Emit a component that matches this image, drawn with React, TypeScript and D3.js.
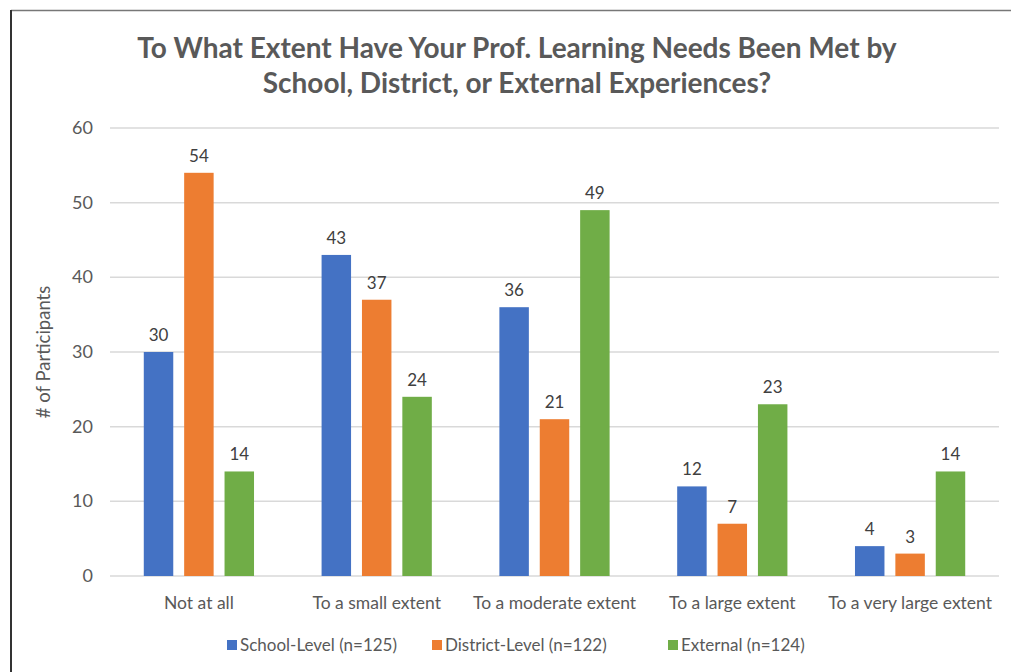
import React from 'react';
import * as d3 from 'd3';

const categories = ['Not at all', 'To a small extent', 'To a moderate extent', 'To a large extent', 'To a very large extent'];
const seriesNames = ['School-Level (n=125)', 'District-Level (n=122)', 'External (n=124)'];
const schoolValues = [30, 43, 36, 12, 4];
const districtValues = [54, 37, 21, 7, 3];
const externalValues = [14, 24, 49, 23, 14];
const yTicks = [0, 10, 20, 30, 40, 50, 60];
const colors = ['#4472C4', '#ED7D31', '#70AD47'];

const W = 1011;
const H = 672;
const font = 'Lato, "Open Sans", sans-serif';

const App = () => {
  const series = [schoolValues, districtValues, externalValues];
  const x = d3.scaleBand().domain(categories).range([110, 999]).paddingInner(0.38).paddingOuter(0.19);
  const x1 = d3.scaleBand().domain(seriesNames).range([0, x.bandwidth()]).paddingInner(0.27);
  const y = d3.scaleLinear().domain([0, 60]).range([576, 128]);

  const legendX = [227, 432, 668];

  return (
    <svg width={W} height={H} style={{ position: 'absolute', left: 0, top: 0, background: '#fff' }}>
      <line x1={11} y1={10.5} x2={W} y2={10.5} stroke="#777" strokeWidth={1.5} />
      <line x1={11} y1={10} x2={11} y2={H} stroke="#333" strokeWidth={2} />

      <g fontFamily={font} fill="#595959" fontWeight="bold" fontSize={28} textAnchor="middle">
        <text x={517} y={58}>To What Extent Have Your Prof. Learning Needs Been Met by</text>
        <text x={517} y={93}>School, District, or External Experiences?</text>
      </g>

      {yTicks.map(t => (
        <g key={t}>
          <line x1={110} x2={999} y1={y(t)} y2={y(t)} stroke="#D9D9D9" strokeWidth={1.5} />
          <text x={93} y={y(t) + 6} textAnchor="end" fontFamily={font} fontSize={18} fill="#595959">{t}</text>
        </g>
      ))}

      <text transform={`translate(50,352) rotate(-90)`} textAnchor="middle" fontFamily={font} fontSize={18.5} fill="#595959">
        # of Participants
      </text>

      {categories.map((c, ci) => (
        <g key={c} transform={`translate(${x(c)},0)`}>
          {series.map((vals, si) => {
            const bx = x1(seriesNames[si]) as number;
            return (
              <g key={si}>
                <rect x={bx} y={y(vals[ci])} width={x1.bandwidth()} height={y(0) - y(vals[ci])} fill={colors[si]} />
                <text x={bx + x1.bandwidth() / 2} y={y(vals[ci]) - 11} textAnchor="middle" fontFamily={font} fontSize={17} fill="#404040">
                  {vals[ci]}
                </text>
              </g>
            );
          })}
          <text x={x.bandwidth() / 2} y={609} textAnchor="middle" fontFamily={font} fontSize={17.5} fill="#595959">{c}</text>
        </g>
      ))}

      {seriesNames.map((s, i) => (
        <g key={s} transform={`translate(${legendX[i]},0)`}>
          <rect x={0} y={640} width={10} height={10} fill={colors[i]} />
          <text x={13} y={651} fontFamily={font} fontSize={17} fill="#595959">{s}</text>
        </g>
      ))}
    </svg>
  );
};

export default App;
